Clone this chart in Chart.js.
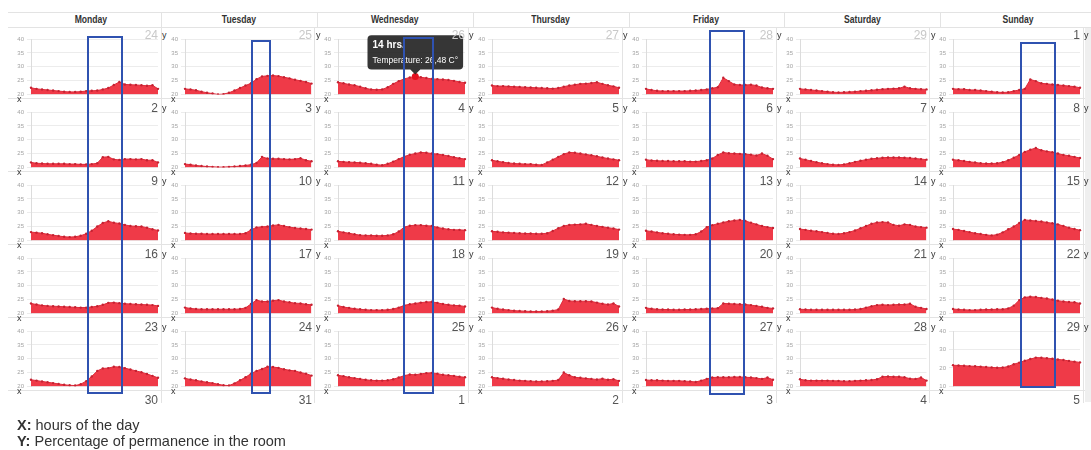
<!DOCTYPE html>
<html>
<head>
<meta charset="utf-8">
<script src="https://cdn.jsdelivr.net/npm/chart.js@4.4.1/dist/chart.umd.min.js"></script>
<style>
  body { margin: 0; background: #fff; font-family: 'Liberation Sans', Arial, sans-serif; }
  #page { position: relative; width: 1091px; height: 450px; overflow: hidden; }
  .hline { position: absolute; height: 1px; background: #e3e3e3; }
  .vline { position: absolute; width: 1px; background: #e3e3e3; }
  .day { position: absolute; top: 13px; height: 14px; line-height: 14px; text-align: center;
         font-size: 10px; font-weight: bold; color: #333; }
  .day span { display: inline-block; transform: scaleX(0.86); }
  .cell { position: absolute; height: 73px; }
  .cell canvas { display: block; }
  .num { position: absolute; top: 1px; font-size: 12px; line-height: 12px; color: #555; text-align: right; }
  .num.muted { color: #c9c9c9; }
  .ax { position: absolute; font-size: 9px; line-height: 9px; color: #333; }
  .hl { position: absolute; border: 2px solid #2f52b0; box-sizing: border-box; z-index: 5; pointer-events: none; }
  .note { position: absolute; left: 17px; font-size: 14.5px; line-height: 16px; color: #333; }
  #scroll { position: absolute; left: 1085px; top: 28px; width: 6px; height: 374px; background: #efefef; }
</style>
</head>
<body>
<div id="page"><div id="scroll"></div></div>
<script>
Chart.defaults.font.family = "'Liberation Sans', Arial, sans-serif";

const hours = ['0','1','2','3','4','5','6','7','8','9','10','11','12','13','14','15','16','17','18','19','20','21','22','23'];
const weekdays = ['Monday', 'Tuesday', 'Wednesday', 'Thursday', 'Friday', 'Saturday', 'Sunday'];
const dateRows = [
  [24, 25, 26, 27, 28, 29, 1],
  [2, 3, 4, 5, 6, 7, 8],
  [9, 10, 11, 12, 13, 14, 15],
  [16, 17, 18, 19, 20, 21, 22],
  [23, 24, 25, 26, 27, 28, 29],
  [30, 31, 1, 2, 3, 4, 5]
];
const yTicks = [20, 25, 30, 35, 40];
const yTicksWide = [10, 20, 30, 40];

// week 1
const w1Mon = [22.4,22.0,21.8,21.6,21.4,21.2,21.0,20.9,20.9,21.0,21.2,21.3,21.4,21.8,22.3,23.4,24.5,23.6,23.5,23.4,23.3,23.1,23.3,22.0];
const w1Tue = [22.0,21.8,21.5,21.0,20.6,20.3,20.0,20.1,20.6,21.4,22.3,23.2,24.0,25.5,26.5,26.7,26.8,26.6,26.2,25.8,25.3,24.9,24.5,23.9];
const w1Wed = [24.4,24.0,23.6,23.3,22.8,22.2,21.8,21.7,21.8,22.6,23.8,24.8,25.6,26.1,26.48,26.2,25.9,25.6,25.5,25.4,25.2,24.9,24.5,24.2];
const w1Thu = [23.2,23.0,23.0,22.9,22.8,22.7,22.6,22.5,22.4,22.3,22.2,22.1,22.3,22.8,23.2,23.5,23.8,23.9,24.1,24.4,23.8,23.3,22.9,22.4];
const w1Fri = [22.0,21.6,21.3,21.2,21.2,21.2,21.2,21.2,21.3,21.4,21.6,21.8,22.2,22.6,26.0,24.8,23.6,23.4,23.4,23.5,23.2,22.5,22.2,22.0];
const w1Sat = [22.0,21.8,21.6,21.4,21.2,21.0,20.8,20.7,20.8,20.9,21.0,21.2,21.3,21.5,21.7,21.9,22.0,22.1,22.2,22.8,22.2,22.0,21.9,21.8];
const w1Sun = [22.0,21.9,21.9,21.6,21.6,21.4,21.2,21.0,20.8,20.7,20.8,21.2,21.6,22.0,25.4,24.8,24.0,23.8,23.6,23.4,23.2,23.0,22.8,22.4];
// week 2
const w2Mon = [21.8,21.5,21.4,21.3,21.3,21.3,21.3,21.2,21.2,21.1,21.1,21.2,21.5,23.7,23.8,22.9,22.7,23.0,23.0,22.9,23.0,22.6,22.6,21.8];
const w2Tue = [21.2,21.0,20.7,20.5,20.3,20.2,20.1,20.1,20.2,20.3,20.5,20.7,21.0,21.6,23.8,23.2,23.1,23.1,23.0,22.9,23.0,23.3,22.6,22.2];
const w2Wed = [22.2,22.0,21.9,21.8,21.7,21.5,21.3,21.0,20.8,21.3,22.1,23.0,23.9,24.6,25.0,25.4,25.3,25.0,24.8,24.5,24.1,23.7,23.3,23.0];
const w2Thu = [22.6,22.2,21.9,21.6,21.4,21.3,21.2,21.2,21.0,20.9,21.8,22.8,23.8,24.8,25.4,25.3,25.0,24.7,24.4,24.0,23.6,23.2,22.9,22.6];
const w2Fri = [22.8,22.5,22.4,22.3,22.3,22.2,22.2,22.2,22.1,22.1,22.3,22.6,23.2,24.5,25.4,25.1,25.0,24.9,24.8,24.6,24.3,25.0,24.2,23.0];
const w2Sat = [23.2,22.8,22.3,21.9,21.5,21.2,21.0,20.9,21.1,21.5,22.0,22.4,22.8,23.1,23.3,23.5,23.6,23.6,23.6,23.5,23.4,23.2,23.0,22.8];
const w2Sun = [22.8,22.6,22.3,22.0,21.8,21.5,21.4,21.4,21.5,21.9,22.6,23.5,24.5,25.6,26.4,27.0,26.2,25.8,25.5,25.0,24.5,24.2,23.8,23.4];
// week 3
const w3Mon = [23.0,22.8,22.6,22.2,21.9,21.6,21.3,21.2,21.3,21.7,22.4,23.5,25.0,26.3,26.9,26.4,26.1,25.6,25.2,25.1,25.0,24.6,24.0,23.6];
const w3Tue = [22.7,22.5,22.4,22.4,22.3,22.3,22.3,22.3,22.3,22.3,22.3,22.6,23.8,24.7,24.9,25.0,25.4,25.6,25.2,24.8,24.5,24.3,24.1,23.9];
const w3Wed = [23.3,22.9,22.6,22.2,21.9,21.8,21.8,21.7,21.7,21.8,22.2,23.2,24.8,25.3,25.5,25.5,25.3,25.2,24.7,24.3,24.0,23.8,23.8,23.7];
const w3Thu = [23.3,23.1,22.9,22.8,22.7,22.6,22.5,22.5,22.4,22.4,22.6,23.4,24.4,25.2,25.6,25.7,25.8,26.0,25.6,25.2,24.9,24.6,24.3,23.9];
const w3Fri = [23.5,23.2,22.9,22.6,22.4,22.2,22.1,22.0,22.0,22.2,23.2,24.8,25.5,26.0,26.5,26.9,27.2,27.4,27.0,26.4,25.8,25.2,24.8,24.5];
const w3Sat = [24.1,23.8,23.5,23.3,23.0,22.7,22.4,22.3,22.6,23.0,23.6,24.4,25.2,26.0,26.5,26.6,26.5,25.6,25.3,25.8,25.6,25.0,24.8,24.6];
const w3Sun = [24.1,23.8,23.4,23.0,22.6,22.3,22.0,21.8,22.1,22.9,24.0,25.0,26.3,27.4,27.2,27.0,26.8,26.5,26.2,25.8,25.2,24.6,24.1,23.7];
// week 4
const w4Mon = [23.6,23.2,22.9,22.7,22.6,22.5,22.4,22.3,22.2,22.1,22.1,22.3,22.6,23.1,23.8,23.9,23.7,23.5,23.4,23.3,23.2,23.1,23.0,22.7];
const w4Tue = [22.1,21.8,21.6,21.5,21.5,21.5,21.5,21.5,21.5,21.5,21.6,22.0,23.4,24.8,24.3,24.3,24.6,24.8,24.3,24.0,23.7,23.6,23.3,23.1];
const w4Wed = [22.8,22.3,22.0,21.7,21.5,21.3,21.2,21.2,21.2,21.3,21.6,22.1,22.9,23.3,23.6,23.9,24.1,24.2,23.8,23.4,23.1,22.9,22.8,22.5];
const w4Thu = [22.1,21.7,21.4,21.2,21.0,20.9,20.8,20.7,20.7,20.7,20.8,21.0,21.4,25.2,24.5,24.4,24.4,24.4,24.3,23.9,23.5,23.2,23.6,22.5];
const w4Fri = [22.0,21.7,21.5,21.4,21.4,21.3,21.3,21.4,21.4,21.5,21.6,21.7,21.8,21.9,23.6,23.5,23.4,23.3,23.2,23.0,22.7,22.4,22.0,21.8];
const w4Sat = [21.5,21.4,21.3,21.3,21.3,21.3,21.3,21.3,21.3,21.3,21.4,21.6,22.1,22.6,23.0,23.1,23.0,23.1,23.2,23.2,23.5,22.4,22.0,21.6];
const w4Sun = [21.6,21.4,21.3,21.2,21.2,21.3,21.4,21.4,21.5,21.5,21.8,22.8,24.8,25.8,26.0,25.9,25.6,25.4,25.0,24.6,24.3,24.1,24.0,23.6];
// week 5
const w5Mon = [22.4,22.1,21.8,21.5,21.2,20.9,20.6,20.4,20.3,20.8,21.9,23.6,25.6,26.5,26.6,27.1,27.0,26.6,26.1,25.6,25.1,24.5,23.8,23.1];
const w5Tue = [22.9,22.5,22.2,21.8,21.5,21.2,20.8,20.4,20.3,21.1,22.2,23.3,24.6,25.6,26.3,27.1,27.0,26.7,26.2,25.8,25.6,25.0,24.6,23.9];
const w5Wed = [24.0,23.7,23.3,23.0,22.7,22.4,22.2,22.1,22.1,22.2,22.6,23.2,23.9,24.3,24.2,24.5,24.8,24.9,24.6,24.2,24.0,23.8,23.5,23.3];
const w5Thu = [23.3,23.0,22.8,22.5,22.3,22.1,22.0,21.9,21.8,21.8,21.9,22.0,22.3,25.0,24.0,23.3,23.1,22.9,22.7,22.5,22.8,22.4,22.6,22.0];
const w5Fri = [22.3,22.2,22.2,22.1,22.0,22.0,22.0,21.9,21.8,21.6,22.1,22.7,23.2,23.3,23.3,23.3,23.4,23.4,23.3,23.2,23.0,22.7,23.2,22.4];
const w5Sat = [22.6,22.2,22.1,22.1,22.1,22.1,22.0,22.0,21.9,21.9,22.0,22.1,22.2,22.3,22.6,23.5,23.6,23.5,23.5,23.3,22.8,22.7,23.2,22.1];
const w5Sun = [21.5,21.3,21.2,21.0,20.9,20.7,20.5,20.3,20.1,20.2,20.8,22.0,22.9,23.9,24.8,25.6,25.5,25.3,25.0,24.6,24.3,23.8,23.4,23.0];

const weeks = [
  [w1Mon, w1Tue, w1Wed, w1Thu, w1Fri, w1Sat, w1Sun],
  [w2Mon, w2Tue, w2Wed, w2Thu, w2Fri, w2Sat, w2Sun],
  [w3Mon, w3Tue, w3Wed, w3Thu, w3Fri, w3Sat, w3Sun],
  [w4Mon, w4Tue, w4Wed, w4Thu, w4Fri, w4Sat, w4Sun],
  [w5Mon, w5Tue, w5Wed, w5Thu, w5Fri, w5Sat, w5Sun]
];

const page = document.getElementById('page');
function add(cls, css, html) {
  const el = document.createElement('div');
  el.className = cls;
  Object.assign(el.style, css);
  if (html !== undefined) el.innerHTML = html;
  page.appendChild(el);
  return el;
}

// header
const headSeps = [161, 317, 473, 629, 784, 940];
const headEdges = [20].concat(headSeps, [1096]);
add('hline', { left: '8px', top: '12px', width: '1083px' });
add('hline', { left: '8px', top: '27px', width: '1083px' });
headSeps.forEach(x => add('vline', { left: x + 'px', top: '12px', height: '16px' }));
weekdays.forEach((d, c) => {
  add('day', { left: headEdges[c] + 'px', width: (headEdges[c + 1] - headEdges[c]) + 'px' }, '<span>' + d + '</span>');
});

// grid geometry
const colX = c => Math.round(8 + 153.7 * c);
const rowY = r => 28 + 73 * r;
for (let c = 1; c <= 7; c++) add('vline', { left: (colX(c) - 1) + 'px', top: '28px', height: '375px' });
for (let r = 0; r < 5; r++) add('hline', { left: '8px', top: (rowY(r) + 70) + 'px', width: '1077px' });

const charts = [];
function makeChart(canvas, values, ticks, w, withTip) {
  const lo = ticks[0], hi = ticks[ticks.length - 1];
  return new Chart(canvas, {
    type: 'line',
    data: {
      labels: hours,
      datasets: [{
        label: 'Temperature',
        data: values,
        fill: 'start',
        backgroundColor: '#ef3a48',
        borderColor: '#e02a39',
        borderWidth: 1,
        pointRadius: 1.2,
        pointBackgroundColor: '#c42232',
        pointBorderWidth: 0,
        pointHoverRadius: 3.5,
        pointHoverBackgroundColor: '#e3101f',
        pointHoverBorderWidth: 0,
        tension: 0
      }]
    },
    options: {
      responsive: true,
      maintainAspectRatio: false,
      animation: false,
      layout: { padding: { left: 0, right: w - 150, top: 11, bottom: 6 } },
      scales: {
        x: { display: false },
        y: {
          min: lo,
          max: hi,
          afterBuildTicks: s => { s.ticks = ticks.map(v => ({ value: v })); },
          afterFit: s => { s.width = 23; },
          ticks: { font: { size: 6 }, color: '#a3a3a3', padding: 3 },
          grid: { color: '#ececec', tickLength: 4 },
          border: { color: '#dcdcdc' }
        }
      },
      plugins: {
        legend: { display: false },
        tooltip: {
          enabled: withTip,
          yAlign: 'bottom',
          xAlign: 'center',
          backgroundColor: 'rgba(32,32,32,0.9)',
          titleFont: { size: 10, weight: 'bold' },
          bodyFont: { size: 8.5, weight: 'normal' },
          titleMarginBottom: 4,
          padding: { x: 5, y: 4 },
          caretSize: 5,
          caretPadding: 2,
          cornerRadius: 4,
          displayColors: false,
          callbacks: {
            title: items => items[0].label + ' hrs.',
            label: ctx => 'Temperature: ' + ctx.parsed.y.toFixed(2).replace('.', ',') + ' C°'
          }
        }
      }
    }
  });
}

for (let r = 0; r < 6; r++) {
  for (let c = 0; c < 7; c++) {
    const left = colX(c), w = colX(c + 1) - left, top = rowY(r);
    const cell = add('cell', { left: left + 'px', top: top + 'px', width: w + 'px' });
    const n = dateRows[r][c];
    const num = document.createElement('div');
    num.className = 'num' + (r === 0 && n > 20 ? ' muted' : '');
    num.style.right = (w - 150) + 'px';
    num.textContent = n;
    if (r < 5) {
      const holder = document.createElement('div');
      holder.style.cssText = 'position:absolute;left:0;top:0;width:' + w + 'px;height:73px;';
      const cv = document.createElement('canvas');
      holder.appendChild(cv);
      cell.appendChild(holder);
      const lastCell = (r === 4 && c === 6);
      charts.push(makeChart(cv, weeks[r][c], lastCell ? yTicksWide : yTicks, w, r === 0 && c === 2));
      const yl = document.createElement('div');
      yl.className = 'ax';
      yl.style.cssText = 'left:154px;top:3px;';
      yl.textContent = 'y';
      cell.appendChild(yl);
      const xl = document.createElement('div');
      xl.className = 'ax';
      xl.style.cssText = 'left:9px;top:67px;';
      xl.textContent = 'x';
      cell.appendChild(xl);
    }
    cell.appendChild(num);
  }
}

// hovered point with tooltip (Wednesday, 14 hrs.)
const tipChart = charts[2];
const tipPt = tipChart.getDatasetMeta(0).data[14];
tipChart.setActiveElements([{ datasetIndex: 0, index: 14 }]);
tipChart.tooltip.setActiveElements([{ datasetIndex: 0, index: 14 }], { x: tipPt.x, y: tipPt.y });
tipChart.update();

// highlighted hour ranges
[[87, 36, 36, 358], [251, 40, 20, 354], [403, 37, 31, 357], [709, 30, 36, 365], [1020, 42, 36, 346]]
  .forEach(b => add('hl', { left: b[0] + 'px', top: b[1] + 'px', width: b[2] + 'px', height: b[3] + 'px' }));

add('note', { top: '417px' }, '<b>X:</b> hours of the day');
add('note', { top: '433px' }, '<b>Y:</b> Percentage of permanence in the room');
</script>
</body>
</html>
